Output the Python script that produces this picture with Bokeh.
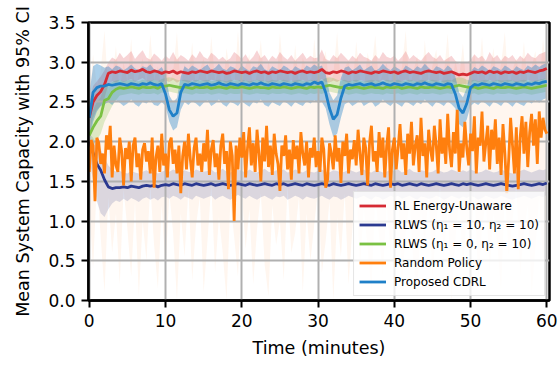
from bokeh.plotting import figure
from bokeh.models import Range1d, Legend, LegendItem, FixedTicker, CustomJSTickFormatter
from bokeh.embed import file_html
from bokeh.resources import INLINE

# ---------------- data ----------------
t_half = [i * 0.5 for i in range(121)]          # 0 .. 60 min, 0.5 min step
t_quarter = [i * 0.25 for i in range(241)]      # 0 .. 60 min, 0.25 min step

red = [2.30, 2.50, 2.58, 2.63, 2.72, 2.86, 2.88, 2.87, 2.89, 2.88,
       2.87, 2.90, 2.88, 2.89, 2.91, 2.88, 2.87, 2.89, 2.88, 2.86,
       2.88, 2.87, 2.89, 2.86, 2.88, 2.87, 2.86, 2.88, 2.87, 2.89,
       2.88, 2.87, 2.89, 2.88, 2.87, 2.88, 2.86, 2.87, 2.89, 2.88,
       2.87, 2.88, 2.86, 2.88, 2.89, 2.87, 2.88, 2.86, 2.88, 2.87,
       2.89, 2.88, 2.87, 2.88, 2.86, 2.88, 2.89, 2.87, 2.88, 2.87,
       2.88, 2.91, 2.87, 2.86, 2.88, 2.87, 2.89, 2.88, 2.86, 2.88,
       2.87, 2.89, 2.88, 2.87, 2.86, 2.88, 2.87, 2.89, 2.88, 2.87,
       2.88, 2.86, 2.88, 2.89, 2.87, 2.88, 2.87, 2.86, 2.88, 2.89,
       2.88, 2.87, 2.88, 2.86, 2.87, 2.88, 2.86, 2.84, 2.85, 2.84,
       2.86, 2.88, 2.87, 2.88, 2.86, 2.89, 2.87, 2.88, 2.86, 2.88,
       2.87, 2.88, 2.86, 2.88, 2.87, 2.89, 2.88, 2.87, 2.89, 2.90,
       2.92]
red_lo = [2.10, 2.30, 2.40, 2.45, 2.55, 2.72, 2.76, 2.74, 2.78, 2.75,
          2.77, 2.79, 2.75, 2.78, 2.80, 2.76, 2.75, 2.78, 2.76, 2.74,
          2.77, 2.75, 2.78, 2.74, 2.77, 2.76, 2.74, 2.77, 2.75, 2.78,
          2.76, 2.75, 2.78, 2.77, 2.75, 2.76, 2.74, 2.75, 2.78, 2.77,
          2.75, 2.77, 2.74, 2.76, 2.78, 2.75, 2.77, 2.74, 2.76, 2.75,
          2.78, 2.76, 2.75, 2.77, 2.74, 2.76, 2.78, 2.75, 2.77, 2.75,
          2.76, 2.79, 2.75, 2.74, 2.77, 2.75, 2.78, 2.76, 2.74, 2.77,
          2.75, 2.78, 2.76, 2.75, 2.74, 2.77, 2.75, 2.78, 2.76, 2.75,
          2.77, 2.74, 2.76, 2.78, 2.75, 2.77, 2.75, 2.74, 2.76, 2.78,
          2.76, 2.75, 2.77, 2.74, 2.75, 2.76, 2.74, 2.72, 2.73, 2.72,
          2.74, 2.77, 2.75, 2.76, 2.74, 2.78, 2.75, 2.77, 2.74, 2.76,
          2.75, 2.77, 2.74, 2.76, 2.75, 2.78, 2.76, 2.75, 2.77, 2.78,
          2.80]
red_hi = [2.50, 2.70, 2.76, 2.82, 2.90, 3.00, 3.06, 3.03, 3.12, 3.05,
          3.09, 3.14, 3.04, 3.10, 3.15, 3.06, 3.03, 3.11, 3.07, 3.02,
          3.08, 3.04, 3.13, 3.03, 3.09, 3.06, 3.02, 3.10, 3.05, 3.14,
          3.07, 3.04, 3.12, 3.08, 3.03, 3.07, 3.02, 3.05, 3.13, 3.09,
          3.04, 3.10, 3.02, 3.07, 3.15, 3.05, 3.09, 3.02, 3.08, 3.04,
          3.13, 3.07, 3.03, 3.09, 3.02, 3.07, 3.12, 3.04, 3.08, 3.05,
          3.06, 3.16, 3.04, 3.02, 3.09, 3.05, 3.12, 3.07, 3.02, 3.08,
          3.04, 3.12, 3.07, 3.05, 3.02, 3.09, 3.04, 3.13, 3.07, 3.05,
          3.08, 3.02, 3.07, 3.14, 3.04, 3.09, 3.05, 3.02, 3.08, 3.13,
          3.07, 3.04, 3.09, 3.02, 3.05, 3.08, 3.02, 2.98, 3.00, 2.99,
          3.03, 3.10, 3.05, 3.08, 3.02, 3.13, 3.05, 3.09, 3.02, 3.08,
          3.05, 3.09, 3.02, 3.08, 3.04, 3.12, 3.07, 3.05, 3.10, 3.12,
          3.14]

navy = [2.00, 1.86, 1.72, 1.64, 1.52, 1.43, 1.41, 1.42, 1.42, 1.43,
        1.42, 1.44, 1.43, 1.42, 1.44, 1.45, 1.44, 1.45, 1.43, 1.45,
        1.46, 1.45, 1.47, 1.46, 1.45, 1.47, 1.46, 1.45, 1.47, 1.46,
        1.45, 1.46, 1.47, 1.45, 1.46, 1.47, 1.46, 1.45, 1.46, 1.47,
        1.46, 1.45, 1.47, 1.46, 1.45, 1.46, 1.47, 1.46, 1.45, 1.47,
        1.46, 1.47, 1.45, 1.46, 1.47, 1.46, 1.45, 1.47, 1.46, 1.45,
        1.46, 1.47, 1.46, 1.45, 1.47, 1.46, 1.45, 1.46, 1.47, 1.46,
        1.45, 1.46, 1.47, 1.46, 1.45, 1.47, 1.46, 1.45, 1.46, 1.47,
        1.46, 1.47, 1.45, 1.46, 1.47, 1.46, 1.45, 1.47, 1.46, 1.45,
        1.46, 1.47, 1.46, 1.45, 1.46, 1.47, 1.46, 1.45, 1.47, 1.46,
        1.47, 1.46, 1.45, 1.46, 1.47, 1.46, 1.45, 1.46, 1.47, 1.46,
        1.45, 1.44, 1.45, 1.46, 1.47, 1.46, 1.45, 1.46, 1.47, 1.46,
        1.48]
navy_lo = [1.80, 1.50, 1.25, 1.10, 1.05, 1.15, 1.22, 1.26, 1.24, 1.28,
           1.25, 1.29, 1.27, 1.24, 1.28, 1.30, 1.27, 1.29, 1.26, 1.30,
           1.31, 1.28, 1.32, 1.30, 1.27, 1.31, 1.29, 1.27, 1.32, 1.30,
           1.28, 1.30, 1.32, 1.27, 1.30, 1.32, 1.29, 1.27, 1.30, 1.33,
           1.30, 1.28, 1.32, 1.29, 1.27, 1.30, 1.32, 1.29, 1.27, 1.31,
           1.30, 1.32, 1.27, 1.29, 1.32, 1.30, 1.27, 1.31, 1.29, 1.28,
           1.30, 1.32, 1.29, 1.27, 1.31, 1.30, 1.27, 1.29, 1.32, 1.30,
           1.28, 1.30, 1.32, 1.29, 1.27, 1.31, 1.30, 1.27, 1.29, 1.32,
           1.30, 1.32, 1.28, 1.30, 1.32, 1.29, 1.27, 1.31, 1.30, 1.28,
           1.29, 1.32, 1.30, 1.27, 1.29, 1.32, 1.30, 1.28, 1.31, 1.29,
           1.32, 1.30, 1.27, 1.29, 1.32, 1.30, 1.28, 1.29, 1.32, 1.30,
           1.28, 1.27, 1.29, 1.30, 1.32, 1.30, 1.28, 1.30, 1.32, 1.30,
           1.33]
navy_hi = [2.10, 2.05, 1.95, 1.90, 1.80, 1.70, 1.65, 1.62, 1.63, 1.61,
           1.60, 1.63, 1.61, 1.60, 1.62, 1.64, 1.61, 1.63, 1.60, 1.62,
           1.64, 1.62, 1.65, 1.63, 1.61, 1.64, 1.62, 1.61, 1.65, 1.63,
           1.62, 1.63, 1.65, 1.61, 1.63, 1.66, 1.62, 1.61, 1.63, 1.65,
           1.63, 1.61, 1.65, 1.62, 1.61, 1.63, 1.66, 1.62, 1.61, 1.64,
           1.63, 1.65, 1.61, 1.62, 1.65, 1.63, 1.61, 1.64, 1.62, 1.61,
           1.63, 1.65, 1.62, 1.61, 1.64, 1.63, 1.61, 1.62, 1.65, 1.63,
           1.61, 1.63, 1.65, 1.62, 1.61, 1.64, 1.63, 1.61, 1.62, 1.65,
           1.63, 1.65, 1.61, 1.63, 1.66, 1.62, 1.61, 1.64, 1.63, 1.61,
           1.62, 1.65, 1.63, 1.61, 1.62, 1.65, 1.63, 1.61, 1.64, 1.62,
           1.65, 1.63, 1.61, 1.62, 1.65, 1.63, 1.61, 1.62, 1.65, 1.63,
           1.61, 1.60, 1.62, 1.63, 1.65, 1.63, 1.61, 1.63, 1.65, 1.64,
           1.66]

green = [2.08, 2.18, 2.26, 2.32, 2.52, 2.54, 2.62, 2.66, 2.68, 2.67,
         2.68, 2.69, 2.68, 2.67, 2.69, 2.68, 2.68, 2.69, 2.67, 2.70,
         2.70, 2.71, 2.70, 2.69, 2.68, 2.69, 2.68, 2.67, 2.69, 2.68,
         2.68, 2.69, 2.67, 2.68, 2.69, 2.68, 2.67, 2.69, 2.68, 2.68,
         2.69, 2.68, 2.67, 2.68, 2.69, 2.68, 2.68, 2.67, 2.69, 2.68,
         2.68, 2.69, 2.68, 2.67, 2.68, 2.69, 2.68, 2.67, 2.69, 2.68,
         2.69, 2.68, 2.70, 2.71, 2.70, 2.69, 2.68, 2.69, 2.67, 2.68,
         2.69, 2.68, 2.67, 2.68, 2.69, 2.68, 2.68, 2.67, 2.69, 2.68,
         2.68, 2.69, 2.67, 2.68, 2.69, 2.68, 2.67, 2.69, 2.68, 2.68,
         2.69, 2.68, 2.67, 2.68, 2.69, 2.68, 2.70, 2.71, 2.70, 2.69,
         2.68, 2.69, 2.67, 2.68, 2.69, 2.68, 2.67, 2.69, 2.68, 2.68,
         2.69, 2.68, 2.67, 2.68, 2.69, 2.68, 2.67, 2.68, 2.69, 2.70,
         2.71]
green_lo = [1.90, 1.95, 2.02, 2.10, 2.25, 2.35, 2.45, 2.52, 2.58, 2.59,
            2.60, 2.61, 2.60, 2.59, 2.61, 2.60, 2.60, 2.61, 2.59, 2.62,
            2.62, 2.63, 2.62, 2.61, 2.60, 2.61, 2.60, 2.59, 2.61, 2.60,
            2.60, 2.61, 2.59, 2.60, 2.61, 2.60, 2.59, 2.61, 2.60, 2.60,
            2.61, 2.60, 2.59, 2.60, 2.61, 2.60, 2.60, 2.59, 2.61, 2.60,
            2.60, 2.61, 2.60, 2.59, 2.60, 2.61, 2.60, 2.59, 2.61, 2.60,
            2.61, 2.60, 2.62, 2.63, 2.62, 2.61, 2.60, 2.61, 2.59, 2.60,
            2.61, 2.60, 2.59, 2.60, 2.61, 2.60, 2.60, 2.59, 2.61, 2.60,
            2.60, 2.61, 2.59, 2.60, 2.61, 2.60, 2.59, 2.61, 2.60, 2.60,
            2.61, 2.60, 2.59, 2.60, 2.61, 2.60, 2.62, 2.63, 2.62, 2.61,
            2.60, 2.61, 2.59, 2.60, 2.61, 2.60, 2.59, 2.61, 2.60, 2.60,
            2.61, 2.60, 2.59, 2.60, 2.61, 2.60, 2.59, 2.60, 2.61, 2.62,
            2.63]
green_hi = [2.25, 2.40, 2.50, 2.56, 2.70, 2.72, 2.75, 2.77, 2.78, 2.76,
            2.77, 2.78, 2.77, 2.76, 2.78, 2.77, 2.77, 2.78, 2.76, 2.79,
            2.80, 2.81, 2.80, 2.78, 2.77, 2.78, 2.77, 2.76, 2.78, 2.77,
            2.77, 2.78, 2.76, 2.77, 2.78, 2.77, 2.76, 2.78, 2.77, 2.77,
            2.78, 2.77, 2.76, 2.77, 2.78, 2.77, 2.77, 2.76, 2.78, 2.77,
            2.77, 2.78, 2.77, 2.76, 2.77, 2.78, 2.77, 2.76, 2.78, 2.77,
            2.78, 2.77, 2.80, 2.81, 2.80, 2.78, 2.77, 2.78, 2.76, 2.77,
            2.78, 2.77, 2.76, 2.77, 2.78, 2.77, 2.77, 2.76, 2.78, 2.77,
            2.77, 2.78, 2.76, 2.77, 2.78, 2.77, 2.76, 2.78, 2.77, 2.77,
            2.78, 2.77, 2.76, 2.77, 2.78, 2.77, 2.80, 2.81, 2.80, 2.78,
            2.77, 2.78, 2.76, 2.77, 2.78, 2.77, 2.76, 2.78, 2.77, 2.77,
            2.78, 2.77, 2.76, 2.77, 2.78, 2.77, 2.76, 2.77, 2.78, 2.79,
            2.80]

blue = [2.30, 2.62, 2.68, 2.70, 2.70, 2.72, 2.71, 2.72, 2.73, 2.72,
        2.71, 2.73, 2.72, 2.71, 2.73, 2.72, 2.74, 2.72, 2.71, 2.73,
        2.60, 2.40, 2.32, 2.36, 2.62, 2.72, 2.71, 2.73, 2.72, 2.71,
        2.72, 2.73, 2.71, 2.72, 2.74, 2.72, 2.71, 2.73, 2.72, 2.71,
        2.73, 2.72, 2.71, 2.73, 2.72, 2.74, 2.72, 2.71, 2.73, 2.72,
        2.71, 2.73, 2.72, 2.71, 2.73, 2.72, 2.71, 2.73, 2.72, 2.75,
        2.73, 2.75, 2.62, 2.42, 2.28, 2.34, 2.55, 2.70, 2.72, 2.71,
        2.72, 2.73, 2.71, 2.72, 2.73, 2.71, 2.72, 2.74, 2.72, 2.71,
        2.73, 2.72, 2.71, 2.73, 2.72, 2.71, 2.73, 2.72, 2.74, 2.72,
        2.71, 2.73, 2.72, 2.71, 2.73, 2.72, 2.60, 2.42, 2.36, 2.48,
        2.68, 2.72, 2.71, 2.73, 2.72, 2.71, 2.73, 2.72, 2.71, 2.73,
        2.72, 2.71, 2.73, 2.72, 2.71, 2.73, 2.72, 2.74, 2.73, 2.75,
        2.76]
blue_lo = [2.00, 2.25, 2.38, 2.45, 2.47, 2.50, 2.46, 2.52, 2.49, 2.45,
           2.48, 2.53, 2.47, 2.44, 2.50, 2.48, 2.52, 2.46, 2.45, 2.50,
           2.45, 2.25, 2.14, 2.18, 2.40, 2.50, 2.46, 2.51, 2.48, 2.44,
           2.49, 2.52, 2.45, 2.48, 2.53, 2.47, 2.44, 2.50, 2.48, 2.45,
           2.51, 2.47, 2.44, 2.50, 2.48, 2.53, 2.46, 2.44, 2.50, 2.47,
           2.45, 2.51, 2.48, 2.44, 2.50, 2.47, 2.45, 2.51, 2.48, 2.52,
           2.49, 2.50, 2.42, 2.22, 2.06, 2.10, 2.30, 2.47, 2.50, 2.45,
           2.48, 2.52, 2.45, 2.48, 2.51, 2.44, 2.47, 2.53, 2.48, 2.45,
           2.50, 2.47, 2.44, 2.51, 2.48, 2.45, 2.50, 2.47, 2.53, 2.48,
           2.44, 2.50, 2.48, 2.45, 2.51, 2.47, 2.42, 2.22, 2.18, 2.28,
           2.45, 2.49, 2.46, 2.51, 2.48, 2.44, 2.50, 2.48, 2.45, 2.51,
           2.48, 2.44, 2.50, 2.47, 2.45, 2.51, 2.48, 2.52, 2.49, 2.53,
           2.55]
blue_hi = [2.60, 2.95, 2.98, 2.96, 2.93, 2.95, 2.91, 2.96, 2.94, 2.90,
           2.93, 2.97, 2.92, 2.90, 2.95, 2.93, 2.97, 2.91, 2.90, 2.94,
           2.85, 2.58, 2.50, 2.55, 2.82, 2.95, 2.91, 2.96, 2.93, 2.90,
           2.94, 2.97, 2.90, 2.93, 2.98, 2.92, 2.90, 2.95, 2.93, 2.90,
           2.96, 2.92, 2.89, 2.95, 2.93, 2.98, 2.91, 2.89, 2.95, 2.92,
           2.90, 2.96, 2.93, 2.89, 2.95, 2.92, 2.90, 2.96, 2.93, 2.97,
           2.94, 2.96, 2.85, 2.62, 2.52, 2.58, 2.80, 2.93, 2.95, 2.90,
           2.93, 2.97, 2.90, 2.93, 2.96, 2.89, 2.92, 2.98, 2.93, 2.90,
           2.95, 2.92, 2.89, 2.96, 2.93, 2.90, 2.95, 2.92, 2.98, 2.93,
           2.89, 2.95, 2.93, 2.90, 2.96, 2.92, 2.82, 2.62, 2.56, 2.68,
           2.88, 2.94, 2.91, 2.96, 2.93, 2.89, 2.95, 2.93, 2.90, 2.96,
           2.93, 2.89, 2.95, 2.92, 2.90, 2.96, 2.93, 2.97, 2.94, 2.97,
           2.99]

orange = [1.62, 2.02, 1.95, 1.25, 2.05, 1.98, 1.72, 1.85, 1.60, 2.08,
          1.90, 2.20, 1.55, 1.95, 1.70, 1.62, 2.05, 1.88, 1.45, 1.92,
          1.78, 2.00, 1.50, 1.95, 2.05, 1.68, 1.85, 1.52, 1.90, 1.98,
          1.75, 1.88, 1.60, 2.05, 1.42, 1.80, 1.95, 1.62, 2.10, 1.70,
          1.85, 1.55, 1.98, 2.05, 1.72, 1.90, 1.60, 1.95, 1.35, 1.82,
          2.00, 1.65, 2.10, 1.78, 1.55, 1.92, 2.05, 1.70, 1.85, 1.62,
          1.98, 1.75, 2.15, 1.58, 1.90, 2.02, 1.68, 1.85, 1.52, 1.95,
          2.10, 1.72, 1.88, 1.40, 2.00, 1.82, 1.00, 1.95, 1.65, 2.05,
          1.80, 2.12, 1.55, 1.92, 2.18, 1.70, 1.98, 1.62, 2.15, 1.85,
          1.50, 2.05, 1.75, 2.20, 1.68, 1.95, 1.58, 2.10, 1.85, 1.72,
          1.38, 1.95, 1.82, 2.08, 1.65, 1.90, 1.52, 2.02, 1.78, 1.95,
          1.60, 2.12, 1.85, 1.70, 2.00, 1.55, 1.92, 1.80, 2.05, 1.68,
          1.88, 1.62, 2.05, 1.90, 1.42, 1.52, 1.98, 1.85, 1.65, 2.08,
          1.75, 1.92, 1.48, 2.00, 1.82, 2.10, 1.60, 1.90, 1.78, 2.02,
          1.70, 2.15, 1.85, 1.58, 2.05, 1.92, 1.45, 1.98, 2.20, 1.75,
          1.88, 1.62, 2.12, 1.80, 2.05, 1.55, 1.95, 2.18, 1.42, 1.90,
          2.05, 1.65, 1.92, 2.22, 1.78, 1.98, 1.58, 2.10, 1.85, 2.25,
          1.70, 1.95, 2.08, 1.62, 2.30, 1.82, 1.98, 1.55, 2.15, 1.90,
          1.75, 2.20, 1.95, 1.60, 2.28, 1.85, 2.05, 1.72, 2.35, 1.90,
          1.68, 2.12, 1.85, 2.40, 1.62, 1.98, 1.80, 2.25, 1.92, 1.70,
          2.10, 1.88, 2.32, 1.60, 2.05, 1.95, 2.38, 1.75, 1.98, 2.20,
          1.65, 2.15, 1.90, 2.28, 1.72, 2.05, 1.58, 2.22, 1.85, 1.35,
          1.78, 2.30, 1.95, 1.60, 2.18, 1.40, 2.05, 2.32, 1.85, 2.25,
          1.68, 2.12, 2.35, 1.95, 2.28, 1.72, 2.38, 2.05, 2.30, 2.15,
          2.10]
orange_lo = [1.20, 0.40, 1.50, 0.80, 0.10, 1.30, 0.60, 1.10, 0.20, 1.40,
             0.90, 0.30, 1.25, 0.05, 1.00, 0.50, 1.45, 0.70, 0.15, 1.20,
             0.40, 1.35, 0.85, 0.00, 1.10, 0.55, 1.40, 0.25, 0.95, 1.30,
             0.10, 0.75, 1.45, 0.35, 1.05, 0.60, 0.00, 1.25, 0.80, 0.30,
             1.40, 0.65, 1.15, 0.20, 0.90, 1.35, 0.45, 0.05, 1.20, 0.70,
             1.00, 0.25, 1.45, 0.60, 0.85, 1.30, 0.10, 1.10, 0.50, 0.95,
             1.40, 0.35, 0.75, 1.25, 0.00, 1.05, 0.55, 1.35, 0.20, 0.90,
             1.45, 0.40, 1.15, 0.65, 0.10, 1.30, 0.80, 0.30, 1.20, 0.60,
             1.00, 1.40, 0.15, 0.85, 1.25, 0.45, 0.05, 1.10, 0.70, 1.35,
             0.25, 0.95, 1.45, 0.50, 1.15, 0.00, 0.75, 1.30, 0.40, 1.05,
             0.60, 1.40, 0.20, 0.90, 1.25, 0.35, 1.10, 0.70, 0.10, 1.35,
             0.55, 1.00, 1.45, 0.30, 0.85, 1.20, 0.05, 0.65, 1.30, 0.45,
             1.10]
orange_hi = [2.60, 3.10, 2.70, 2.90, 3.40, 2.62, 2.80, 3.20, 2.65, 3.00,
             2.75, 3.30, 2.62, 2.85, 3.05, 2.68, 3.35, 2.78, 2.95, 2.64,
             3.15, 2.72, 2.88, 3.38, 2.66, 2.98, 2.80, 3.25, 2.62, 2.90,
             3.05, 2.70, 3.32, 2.76, 2.92, 2.64, 3.18, 2.84, 2.68, 3.40,
             2.74, 2.96, 3.10, 2.62, 2.86, 3.28, 2.70, 3.02, 2.78, 2.66,
             3.36, 2.82, 2.94, 2.64, 3.22, 2.72, 3.06, 2.88, 2.62, 3.30,
             2.76, 2.98, 3.14, 2.68, 2.84, 3.38, 2.70, 2.92, 3.04, 2.64,
             3.26, 2.80, 2.66, 3.12, 2.90, 3.34, 2.72, 2.86, 3.00, 2.62,
             3.20, 2.78, 2.94, 3.40, 2.68, 2.88, 3.08, 2.64, 3.28, 2.74,
             2.96, 3.16, 2.70, 2.84, 3.36, 2.66, 3.02, 2.80, 3.24, 2.62,
             2.92, 3.10, 2.76, 3.32, 2.68, 2.86, 3.18, 2.72, 2.98, 3.38,
             2.64, 2.90, 3.06, 2.78, 3.26, 2.70, 2.94, 3.14, 2.66, 3.30,
             2.82]

labels = ["RL Energy-Unaware",
          "RLWS (\u03b7\u2081 = 10, \u03b7\u2082 = 10)",
          "RLWS (\u03b7\u2081 = 0, \u03b7\u2082 = 10)",
          "Random Policy",
          "Proposed CDRL"]
x_ticks = [0, 10, 20, 30, 40, 50, 60]
y_ticks = [0.0, 0.5, 1.0, 1.5, 2.0, 2.5, 3.0, 3.5]

C_RED = "#d62a33"
C_NAVY = "#2a3990"
C_GREEN = "#7ac143"
C_ORANGE = "#ff7f0e"
C_BLUE = "#1f80c8"

FONT = "DejaVu Sans"

p = figure(width=558, height=369, output_backend="svg", toolbar_location=None,
           x_range=Range1d(-0.1, 60.35), y_range=Range1d(0, 3.5),
           min_border_left=88, min_border_right=9, min_border_top=22,
           min_border_bottom=69)

# confidence bands (drawn beneath the grid, like matplotlib's fills)
bands = [
    p.varea(x=t_half, y1=orange_lo, y2=orange_hi, fill_color=C_ORANGE, fill_alpha=0.065),
    p.varea(x=t_half, y1=navy_lo, y2=navy_hi, fill_color=C_NAVY, fill_alpha=0.17),
    p.varea(x=t_half, y1=red_lo, y2=red_hi, fill_color=C_RED, fill_alpha=0.2),
    p.varea(x=t_half, y1=green_lo, y2=green_hi, fill_color=C_GREEN, fill_alpha=0.25),
    p.varea(x=t_half, y1=blue_lo, y2=blue_hi, fill_color=C_BLUE, fill_alpha=0.38),
]
for b in bands:
    b.level = "image"

# mean lines
lw = 2.8
r_navy = p.line(t_half, navy, line_color=C_NAVY, line_width=lw)
r_green = p.line(t_half, green, line_color=C_GREEN, line_width=lw)
r_red = p.line(t_half, red, line_color=C_RED, line_width=lw)
r_blue = p.line(t_half, blue, line_color=C_BLUE, line_width=lw)
r_orange = p.line(t_quarter, orange, line_color=C_ORANGE, line_width=lw)

# axes styling
p.xaxis.ticker = FixedTicker(ticks=x_ticks)
p.yaxis.ticker = FixedTicker(ticks=y_ticks)
p.yaxis.formatter = CustomJSTickFormatter(code="return tick.toFixed(1);")
p.xaxis.axis_label = "Time (minutes)"
p.yaxis.axis_label = "Mean System Capacity with 95% CI"
for ax in (p.xaxis, p.yaxis):
    ax.axis_label_text_font = FONT
    ax.axis_label_text_font_size = "17.5px"
    ax.axis_label_text_font_style = "normal"
    ax.axis_label_text_color = "#000000"
    ax.major_label_text_font = FONT
    ax.major_label_text_font_size = "17px"
    ax.major_label_text_color = "#000000"
    ax.axis_line_width = 2.5
    ax.axis_line_color = "#000000"
    ax.major_tick_line_width = 2
    ax.major_tick_line_color = "#000000"
    ax.major_tick_in = 0
    ax.major_tick_out = 7
    ax.minor_tick_line_color = None
    ax.major_label_standoff = 6
p.xaxis.axis_label_standoff = 8
p.yaxis.axis_label_standoff = 12

p.xgrid.ticker = FixedTicker(ticks=x_ticks)
p.ygrid.ticker = FixedTicker(ticks=y_ticks)
p.grid.grid_line_color = "#b0b0b0"
p.grid.grid_line_width = 2
p.outline_line_color = "#000000"
p.outline_line_width = 2.5
p.background_fill_color = "#ffffff"
p.border_fill_color = "#ffffff"

legend = Legend(items=[
    LegendItem(label=labels[0], renderers=[r_red]),
    LegendItem(label=labels[1], renderers=[r_navy]),
    LegendItem(label=labels[2], renderers=[r_green]),
    LegendItem(label=labels[3], renderers=[r_orange]),
    LegendItem(label=labels[4], renderers=[r_blue]),
], location="bottom_right")
legend.label_text_font = FONT
legend.label_text_font_size = "12px"
legend.label_text_color = "#000000"
legend.glyph_width = 27
legend.glyph_height = 17
legend.label_height = 17
legend.label_standoff = 8
legend.spacing = 2
legend.padding = 5
legend.margin = 4
legend.border_line_color = "#cccccc"
legend.border_line_width = 1.5
legend.background_fill_color = "#ffffff"
legend.background_fill_alpha = 0.8
p.add_layout(legend)

open("out.html", "w").write(file_html(p, INLINE))
